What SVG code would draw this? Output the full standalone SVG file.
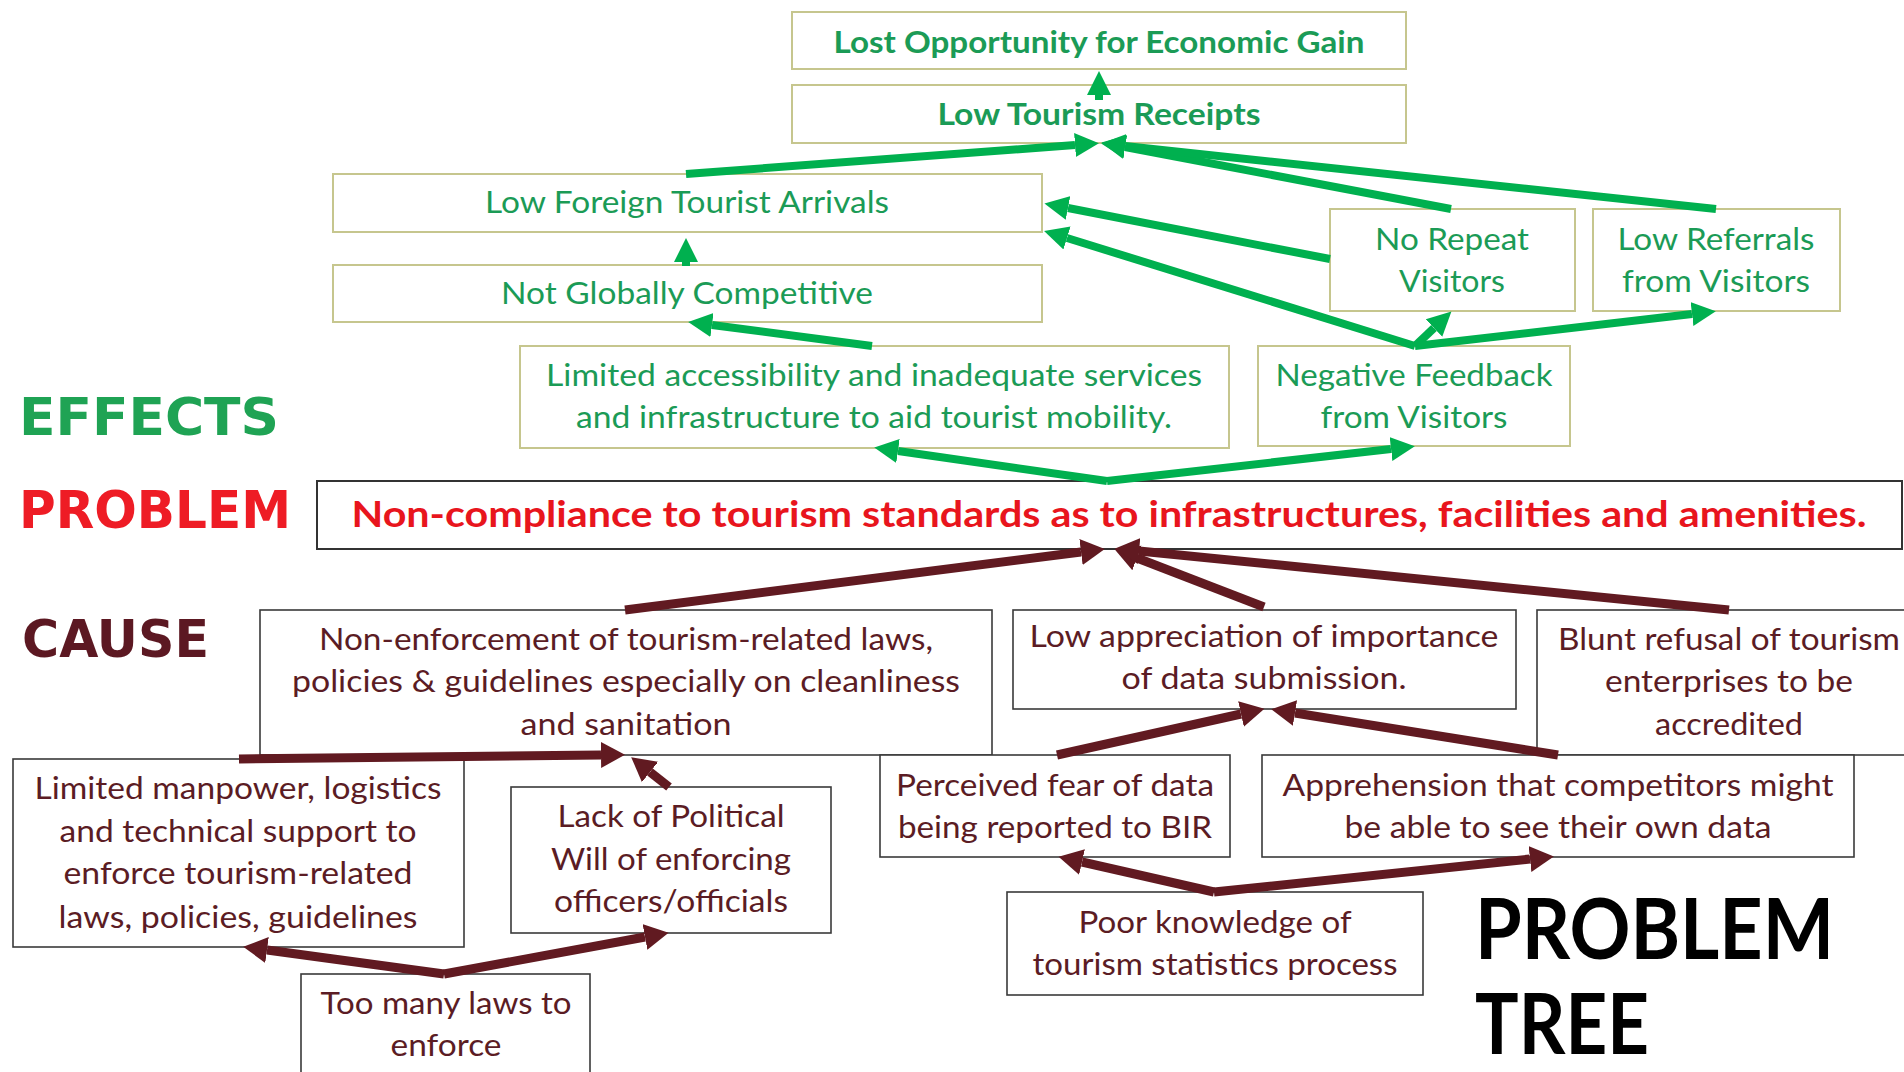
<svg xmlns="http://www.w3.org/2000/svg" width="1904" height="1072" viewBox="0 0 1904 1072">
<style>
.eb{fill:#fff;stroke:#c6c68e;stroke-width:2}
.cb{fill:#fff;stroke:#3a3a3a;stroke-width:1.6}
.pb{fill:#fff;stroke:#333;stroke-width:2}
.et{font-family:Lato,'Open Sans',sans-serif;font-size:31px;fill:#1b9b56;text-anchor:middle}
.etb{font-family:Lato,'Open Sans',sans-serif;font-size:31px;font-weight:bold;fill:#1b9b56;text-anchor:middle}
.ct{font-family:Lato,'Open Sans',sans-serif;font-size:31px;fill:#5b1c24;text-anchor:middle}
.pt{font-family:Lato,'Open Sans',sans-serif;font-size:36px;font-weight:bold;fill:#e8151d;text-anchor:middle}
.lab{font-family:'DejaVu Sans',sans-serif;font-weight:bold;font-size:52px}
.big{font-family:Lato,'Open Sans',sans-serif;font-weight:bold;font-size:84px;fill:#000}
.ga{stroke:#00b04f;stroke-width:8;fill:none;marker-end:url(#gh)}
.ma{stroke:#611a21;stroke-width:9;fill:none;marker-end:url(#mh)}
</style>
<defs>
<marker id="gh" markerUnits="userSpaceOnUse" markerWidth="26" markerHeight="26" viewBox="0 0 26 26" refX="0" refY="13" orient="auto"><path d="M0,1 L24,13 L0,25 z" fill="#00b04f"/></marker>
<marker id="mh" markerUnits="userSpaceOnUse" markerWidth="26" markerHeight="28" viewBox="0 0 26 28" refX="0" refY="14" orient="auto"><path d="M0,1 L24,14 L0,27 z" fill="#611a21"/></marker>
</defs>
<rect width="1904" height="1072" fill="#fff"/>

<g id="labels">
<text class="lab" x="19" y="435" fill="#1fa354" textLength="260" lengthAdjust="spacingAndGlyphs">EFFECTS</text>
<text class="lab" x="19" y="528" fill="#ee1c25" textLength="272" lengthAdjust="spacingAndGlyphs">PROBLEM</text>
<text class="lab" x="22" y="657" fill="#5c1822" textLength="187" lengthAdjust="spacingAndGlyphs">CAUSE</text>
<text class="big" x="1475" y="959" textLength="359" lengthAdjust="spacingAndGlyphs">PROBLEM</text>
<text class="big" x="1475" y="1054" textLength="174" lengthAdjust="spacingAndGlyphs">TREE</text>
</g>

<g id="n-lost"><rect class="eb" x="792" y="12" width="614" height="57"/><text class="etb" x="1099" y="53" textLength="531" lengthAdjust="spacingAndGlyphs">Lost Opportunity for Economic Gain</text></g>
<g id="n-receipts"><rect class="eb" x="792" y="85" width="614" height="58"/><text class="etb" x="1099" y="125" textLength="323" lengthAdjust="spacingAndGlyphs">Low Tourism Receipts</text></g>
<g id="n-arrivals"><rect class="eb" x="333" y="174" width="709" height="58"/><text class="et" x="687" y="213" textLength="404" lengthAdjust="spacingAndGlyphs">Low Foreign Tourist Arrivals</text></g>
<g id="n-competitive"><rect class="eb" x="333" y="265" width="709" height="57"/><text class="et" x="687" y="304" textLength="372" lengthAdjust="spacingAndGlyphs">Not Globally Competitive</text></g>
<g id="n-repeat"><rect class="eb" x="1330" y="209" width="245" height="102"/><text class="et" x="1452" y="250" textLength="154" lengthAdjust="spacingAndGlyphs">No Repeat</text><text class="et" x="1452" y="292" textLength="106" lengthAdjust="spacingAndGlyphs">Visitors</text></g>
<g id="n-referrals"><rect class="eb" x="1593" y="209" width="247" height="102"/><text class="et" x="1716" y="250" textLength="197" lengthAdjust="spacingAndGlyphs">Low Referrals</text><text class="et" x="1716" y="292" textLength="188" lengthAdjust="spacingAndGlyphs">from Visitors</text></g>
<g id="n-access"><rect class="eb" x="520" y="346" width="709" height="102"/><text class="et" x="874" y="386" textLength="656" lengthAdjust="spacingAndGlyphs">Limited accessibility and inadequate services</text><text class="et" x="874" y="428" textLength="596" lengthAdjust="spacingAndGlyphs">and infrastructure to aid tourist mobility.</text></g>
<g id="n-feedback"><rect class="eb" x="1258" y="346" width="312" height="100"/><text class="et" x="1414" y="386" textLength="277" lengthAdjust="spacingAndGlyphs">Negative Feedback</text><text class="et" x="1414" y="428" textLength="187" lengthAdjust="spacingAndGlyphs">from Visitors</text></g>

<g id="n-problem"><rect class="pb" x="317" y="481" width="1585" height="68"/><text class="pt" x="1109" y="527" textLength="1515" lengthAdjust="spacingAndGlyphs">Non-compliance to tourism standards as to infrastructures, facilities and amenities.</text></g>

<g id="n-enforcement"><rect class="cb" x="260" y="610" width="732" height="145"/><text class="ct" x="626" y="650" textLength="614" lengthAdjust="spacingAndGlyphs">Non-enforcement of tourism-related laws,</text><text class="ct" x="626" y="692" textLength="668" lengthAdjust="spacingAndGlyphs">policies &amp; guidelines especially on cleanliness</text><text class="ct" x="626" y="735" textLength="211" lengthAdjust="spacingAndGlyphs">and sanitation</text></g>
<g id="n-appreciation"><rect class="cb" x="1013" y="610" width="503" height="99"/><text class="ct" x="1264" y="647" textLength="469" lengthAdjust="spacingAndGlyphs">Low appreciation of importance</text><text class="ct" x="1264" y="689" textLength="285" lengthAdjust="spacingAndGlyphs">of data submission.</text></g>
<g id="n-refusal"><rect class="cb" x="1537" y="610" width="380" height="145"/><text class="ct" x="1729" y="650" textLength="342" lengthAdjust="spacingAndGlyphs">Blunt refusal of tourism</text><text class="ct" x="1729" y="692" textLength="248" lengthAdjust="spacingAndGlyphs">enterprises to be</text><text class="ct" x="1729" y="735" textLength="148" lengthAdjust="spacingAndGlyphs">accredited</text></g>
<g id="n-manpower"><rect class="cb" x="13" y="759" width="451" height="188"/><text class="ct" x="238" y="799" textLength="407" lengthAdjust="spacingAndGlyphs">Limited manpower, logistics</text><text class="ct" x="238" y="842" textLength="357" lengthAdjust="spacingAndGlyphs">and technical support to</text><text class="ct" x="238" y="884" textLength="349" lengthAdjust="spacingAndGlyphs">enforce tourism-related</text><text class="ct" x="238" y="928" textLength="359" lengthAdjust="spacingAndGlyphs">laws, policies, guidelines</text></g>
<g id="n-political"><rect class="cb" x="511" y="787" width="320" height="146"/><text class="ct" x="671" y="827" textLength="227" lengthAdjust="spacingAndGlyphs">Lack of Political</text><text class="ct" x="671" y="870" textLength="240" lengthAdjust="spacingAndGlyphs">Will of enforcing</text><text class="ct" x="671" y="912" textLength="234" lengthAdjust="spacingAndGlyphs">officers/officials</text></g>
<g id="n-fear"><rect class="cb" x="880" y="755" width="350" height="102"/><text class="ct" x="1055" y="796" textLength="318" lengthAdjust="spacingAndGlyphs">Perceived fear of data</text><text class="ct" x="1055" y="838" textLength="314" lengthAdjust="spacingAndGlyphs">being reported to BIR</text></g>
<g id="n-apprehension"><rect class="cb" x="1262" y="755" width="592" height="102"/><text class="ct" x="1558" y="796" textLength="551" lengthAdjust="spacingAndGlyphs">Apprehension that competitors might</text><text class="ct" x="1558" y="838" textLength="427" lengthAdjust="spacingAndGlyphs">be able to see their own data</text></g>
<g id="n-knowledge"><rect class="cb" x="1007" y="892" width="416" height="103"/><text class="ct" x="1215" y="933" textLength="273" lengthAdjust="spacingAndGlyphs">Poor knowledge of</text><text class="ct" x="1215" y="975" textLength="365" lengthAdjust="spacingAndGlyphs">tourism statistics process</text></g>
<g id="n-laws"><rect class="cb" x="301" y="974" width="289" height="110"/><text class="ct" x="446" y="1014" textLength="251" lengthAdjust="spacingAndGlyphs">Too many laws to</text><text class="ct" x="446" y="1056" textLength="111" lengthAdjust="spacingAndGlyphs">enforce</text></g>

<g id="connectors">
<line class="ga" x1="1099" y1="100" x2="1099" y2="95"/>
<line class="ga" x1="686" y1="174" x2="1075" y2="145"/>
<line class="ga" x1="1451" y1="209" x2="1125" y2="147"/>
<line class="ga" x1="1716" y1="209" x2="1125" y2="146"/>
<line class="ga" x1="686" y1="266" x2="686" y2="262"/>
<line class="ga" x1="872" y1="346" x2="712" y2="325"/>
<line class="ga" x1="1330" y1="259" x2="1068" y2="208"/>
<line class="ga" x1="1415" y1="346" x2="1067" y2="238"/>
<line class="ga" x1="1415" y1="346" x2="1434" y2="328"/>
<line class="ga" x1="1415" y1="346" x2="1692" y2="314"/>
<line class="ga" x1="1107" y1="481" x2="898" y2="451"/>
<line class="ga" x1="1107" y1="481" x2="1391" y2="449"/>
<line class="ma" x1="625" y1="610" x2="1081" y2="552"/>
<line class="ma" x1="1264" y1="607" x2="1137" y2="558"/>
<line class="ma" x1="1729" y1="610" x2="1139" y2="551"/>
<line class="ma" x1="239" y1="759" x2="601" y2="755"/>
<line class="ma" x1="669" y1="787" x2="650" y2="772"/>
<line class="ma" x1="444" y1="974" x2="267" y2="950"/>
<line class="ma" x1="444" y1="974" x2="645" y2="937"/>
<line class="ma" x1="1057" y1="755" x2="1241" y2="714"/>
<line class="ma" x1="1558" y1="755" x2="1295" y2="713"/>
<line class="ma" x1="1214" y1="892" x2="1082" y2="862"/>
<line class="ma" x1="1214" y1="892" x2="1530" y2="859"/>
</g>
</svg>
